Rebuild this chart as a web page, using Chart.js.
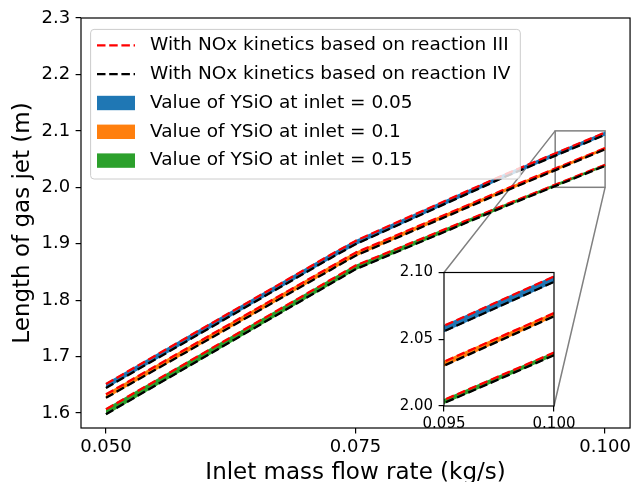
<!DOCTYPE html>
<html>
<head>
<meta charset="utf-8">
<script src="https://cdn.jsdelivr.net/npm/chart.js@4.4.0/dist/chart.umd.min.js"></script>
<style>
html, body { margin: 0; padding: 0; background: #fff; }
#wrap { position: relative; width: 634px; height: 482px; }
#main { position: absolute; left: 0; top: 0; }
#inset { position: absolute; left: 370px; top: 258px; }
</style>
</head>
<body>
<div id="wrap">
  <canvas id="main" width="634" height="482"></canvas>
  <canvas id="inset" width="220" height="190"></canvas>
</div>
<script>
// inlet mass flow rate (kg/s)
const flowRate = [0.05, 0.0725, 0.075, 0.0775, 0.09, 0.1];

// length of gas jet (m), reaction III vs reaction IV, per inlet YSiO
const jetIII_005 = [1.6515, 1.8805, 1.905, 1.925, 2.0232, 2.097];
const jetIV_005  = [1.6445, 1.8745, 1.899, 1.919, 2.0188, 2.093];
const jetIII_01  = [1.6331, 1.8592, 1.8842, 1.9029, 1.9968, 2.0696];
const jetIV_01   = [1.6269, 1.8536, 1.8788, 1.8979, 1.9932, 2.0672];
const jetIII_015 = [1.6067, 1.836, 1.8613, 1.8793, 1.9691, 2.040];
const jetIV_015  = [1.5979, 1.829, 1.8547, 1.8733, 1.9663, 2.038];

const xLimits = [0.0475, 0.1025];
const yLimits = [1.5735, 2.3];
const xTicks = [0.05, 0.075, 0.1];
const yTicks = [1.6, 1.7, 1.8, 1.9, 2.0, 2.1, 2.2, 2.3];

const insetX = [0.095, 0.1];
const insetY = [2.0, 2.1];
const insetXTicks = [0.095, 0.1];
const insetYTicks = [2.0, 2.05, 2.1];

const legendLabels = [
  'With NOx kinetics based on reaction III',
  'With NOx kinetics based on reaction IV',
  'Value of YSiO at inlet = 0.05',
  'Value of YSiO at inlet = 0.1',
  'Value of YSiO at inlet = 0.15'
];
const xTitle = 'Inlet mass flow rate (kg/s)';
const yTitle = 'Length of gas jet (m)';

const FONT = 'DejaVu Sans';
Chart.defaults.font.family = FONT;
Chart.defaults.color = '#000';

const RED = '#ff0000', BLACK = '#000000';
const bands = [
  {color: '#1f77b4', iii: jetIII_005, iv: jetIV_005},
  {color: '#ff7f0e', iii: jetIII_01,  iv: jetIV_01},
  {color: '#2ca02c', iii: jetIII_015, iv: jetIV_015}
];
const handles = [
  {kind: 'line', color: RED},
  {kind: 'line', color: BLACK},
  ...bands.map(b => ({kind: 'patch', color: b.color}))
];

const pts = ys => ys.map((y, i) => ({x: flowRate[i], y}));
const DASH = [8.5, 3.7];

function buildDatasets(){
  const ds = [];
  bands.forEach(b => {
    ds.push({data: pts(b.iii), borderColor: b.color, backgroundColor: b.color, borderWidth: 1.5, fill: '+1', order: 3});
    ds.push({data: pts(b.iv), borderColor: b.color, borderWidth: 1.5, fill: false, order: 3});
  });
  bands.forEach(b => {
    ds.push({data: pts(b.iii), borderColor: RED, borderWidth: 2.3, borderDash: DASH, fill: false, order: 1});
    ds.push({data: pts(b.iv), borderColor: BLACK, borderWidth: 2.3, borderDash: DASH, fill: false, order: 0});
  });
  return ds.map(d => ({...d, pointRadius: 0, tension: 0, borderJoinStyle: 'round'}));
}

function axis(lims, ticks, digits, fontSize, pad, fit, title){
  return {
    type: 'linear', min: lims[0], max: lims[1],
    afterBuildTicks: s => { s.ticks = ticks.map(v => ({value: v})); },
    afterFit: fit,
    grid: {drawOnChartArea: false, color: '#000', tickLength: 5.4, lineWidth: 1.2},
    border: {display: false},
    ticks: {autoSkip: false, maxRotation: 0, padding: pad, font: {size: fontSize}, callback: v => Number(v).toFixed(digits)},
    title: title || {display: false}
  };
}

const framePlugin = {
  id: 'frame',
  beforeDraw(chart){
    if (!chart.options.plugins.frame.fillArea) return;
    const a = chart.chartArea, ctx = chart.ctx;
    ctx.save();
    ctx.fillStyle = '#fff';
    ctx.fillRect(a.left, a.top, a.right - a.left, a.bottom - a.top);
    ctx.restore();
  },
  afterDraw(chart){
    const a = chart.chartArea, ctx = chart.ctx;
    ctx.save();
    ctx.strokeStyle = '#000';
    ctx.lineWidth = 1.2;
    ctx.strokeRect(a.left, a.top, a.right - a.left, a.bottom - a.top);
    ctx.restore();
  }
};

const insetCanvas = document.getElementById('inset');
const insetChart = new Chart(insetCanvas, {
  type: 'line',
  data: {datasets: buildDatasets()},
  plugins: [framePlugin],
  options: {
    responsive: false, animation: false, devicePixelRatio: 1,
    layout: {padding: {top: 10, right: 36, left: 0, bottom: 0}},
    plugins: {legend: {display: false}, tooltip: {enabled: false}, frame: {fillArea: true}},
    scales: {
      x: axis(insetX, insetXTicks, 3, 15, 4, s => { s.height = 42; }),
      y: axis(insetY, insetYTicks, 2, 15, 5.5, s => { s.width = 74; })
    }
  }
});

const zoomPlugin = {
  id: 'zoomMark',
  beforeDatasetsDraw(chart){
    const ctx = chart.ctx, xs = chart.scales.x, ys = chart.scales.y;
    const x0 = xs.getPixelForValue(insetX[0]), x1 = xs.getPixelForValue(insetX[1]);
    const y0 = ys.getPixelForValue(insetY[1]), y1 = ys.getPixelForValue(insetY[0]);
    const ia = insetChart.chartArea;
    const ox = insetCanvas.offsetLeft, oy = insetCanvas.offsetTop;
    ctx.save();
    ctx.strokeStyle = '#808080';
    ctx.lineWidth = 1.5;
    ctx.strokeRect(x0, y0, x1 - x0, y1 - y0);
    ctx.beginPath();
    ctx.moveTo(x0, y0); ctx.lineTo(ox + ia.left, oy + ia.top);
    ctx.moveTo(x1, y1); ctx.lineTo(ox + ia.right, oy + ia.bottom);
    ctx.stroke();
    ctx.restore();
  }
};

const legendPlugin = {
  id: 'boxLegend',
  afterDraw(chart){
    const ctx = chart.ctx, a = chart.chartArea;
    ctx.save();
    ctx.font = '18.5px "' + FONT + '"';
    const textW = Math.max(...legendLabels.map(t => ctx.measureText(t).width));
    const bx = a.left + 9.6, by = a.top + 11.4, rowH = 28.8;
    const bw = 59.4 + textW + 10, bh = rowH * (legendLabels.length - 1) + 34.4;
    ctx.beginPath();
    ctx.roundRect(bx, by, bw, bh, 3.5);
    ctx.fillStyle = 'rgba(255,255,255,0.8)';
    ctx.fill();
    ctx.strokeStyle = '#cccccc';
    ctx.lineWidth = 1;
    ctx.stroke();
    legendLabels.forEach((t, i) => {
      const cy = by + 16 + i * rowH, h = handles[i];
      if (h.kind === 'line') {
        ctx.beginPath();
        ctx.setLineDash(DASH);
        ctx.strokeStyle = h.color;
        ctx.lineWidth = 2.3;
        ctx.moveTo(bx + 6.4, cy); ctx.lineTo(bx + 44.4, cy);
        ctx.stroke();
        ctx.setLineDash([]);
      } else {
        ctx.fillStyle = h.color;
        ctx.fillRect(bx + 6.4, cy - 7.2, 38, 14.4);
      }
      ctx.fillStyle = '#000';
      ctx.textBaseline = 'middle';
      ctx.fillText(t, bx + 59.4, cy);
    });
    ctx.restore();
  }
};

new Chart(document.getElementById('main'), {
  type: 'line',
  data: {datasets: buildDatasets()},
  plugins: [framePlugin, zoomPlugin, legendPlugin],
  options: {
    responsive: false, animation: false, devicePixelRatio: 1,
    layout: {padding: {top: 18, right: 3, left: 0, bottom: 0}},
    plugins: {legend: {display: false}, tooltip: {enabled: false}, frame: {fillArea: false}},
    scales: {
      x: axis(xLimits, xTicks, 3, 18, 3, s => { s.height = 54; },
        {display: true, text: xTitle, font: {size: 23, lineHeight: 1}, padding: {top: 0, bottom: -2.5}}),
      y: axis(yLimits, yTicks, 1, 18, 5.4, s => { s.width = 81; },
        {display: true, text: yTitle, font: {size: 23}, padding: {top: 9, bottom: 0}})
    }
  }
});
</script>
</body>
</html>
